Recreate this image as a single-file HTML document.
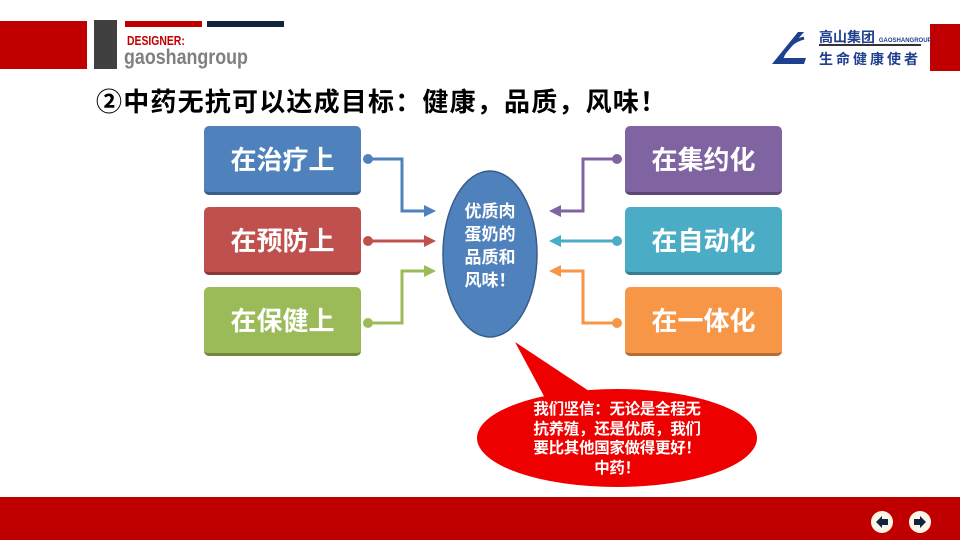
<!DOCTYPE html>
<html><head><meta charset="utf-8"><style>
body{margin:0;width:960px;height:540px;position:relative;overflow:hidden;background:#fff;font-family:"Liberation Sans","Noto Sans CJK SC",sans-serif}
.a{position:absolute}
.box{position:absolute;width:157px;border-radius:5px;color:#fff;font-weight:bold;font-size:26px;text-align:center;line-height:68px}
</style></head><body>
<div class="a" style="left:0;top:21px;width:87px;height:48px;background:#c00000"></div>
<div class="a" style="left:94px;top:20px;width:23px;height:49px;background:#404040"></div>
<div class="a" style="left:125px;top:21px;width:77px;height:6px;background:#c00000"></div>
<div class="a" style="left:207px;top:21px;width:77px;height:6px;background:#10243e"></div>
<div class="a" style="left:127px;top:33px;font-size:13px;font-weight:bold;color:#c00000;transform:scaleX(0.8);transform-origin:left">DESIGNER:</div>
<div class="a" style="left:124px;top:46px;font-size:21px;font-weight:bold;color:#7f7f7f;transform:scaleX(0.85);transform-origin:left">gaoshangroup</div>
<div class="a" style="left:930px;top:24px;width:30px;height:47px;background:#c00000"></div>
<svg class="a" style="left:768px;top:28px" width="40" height="40"><path d="M4 36 L30 4 L36 4 L14 30 L38 30 L36 36 Z" fill="#1f3f8f"/><path d="M14 30 Q20 14 36 10" stroke="#1f3f8f" stroke-width="3" fill="none"/></svg>
<div class="a" style="left:819px;top:27px;font-size:14px;font-weight:bold;color:#1f3f8f">高山集团 <span style="font-size:6px">GAOSHANGROUP</span></div>
<div class="a" style="left:819px;top:44px;width:102px;height:2px;background:#333"></div>
<div class="a" style="left:819px;top:49px;font-size:14px;font-weight:bold;color:#1f3f8f;letter-spacing:3px">生命健康使者</div>
<div class="a" style="left:96px;top:82px;font-size:26px;font-weight:bold;color:#000;letter-spacing:1.2px">②中药无抗可以达成目标：健康，品质，风味！</div>

<div class="box" style="left:204px;top:126px;height:66px;background:#4f81bd;border-bottom:3px solid #385d8a">在治疗上</div>
<div class="box" style="left:204px;top:207px;height:65px;background:#c0504d;border-bottom:3px solid #8c3836">在预防上</div>
<div class="box" style="left:204px;top:287px;height:66px;background:#9bbb59;border-bottom:3px solid #71893f">在保健上</div>
<div class="box" style="left:625px;top:126px;height:66px;background:#8064a2;border-bottom:3px solid #5c4776">在集约化</div>
<div class="box" style="left:625px;top:207px;height:65px;background:#4bacc6;border-bottom:3px solid #357d91">在自动化</div>
<div class="box" style="left:625px;top:287px;height:66px;background:#f79646;border-bottom:3px solid #b66d31">在一体化</div>

<svg class="a" style="left:0;top:0" width="960" height="540">
<g fill="none" stroke-width="3">
<polyline points="368,159 402,159 402,211 426,211" stroke="#4f81bd"/>
<polyline points="368,241 426,241" stroke="#c0504d"/>
<polyline points="368,323 402,323 402,271 426,271" stroke="#9bbb59"/>
<polyline points="617,159 583,159 583,211 559,211" stroke="#8064a2"/>
<polyline points="617,241 559,241" stroke="#4bacc6"/>
<polyline points="617,323 583,323 583,271 559,271" stroke="#f79646"/>
</g>
<circle cx="368" cy="159" r="5" fill="#4f81bd"/><path d="M424,205 L436,211 L424,217Z" fill="#4f81bd"/>
<circle cx="368" cy="241" r="5" fill="#c0504d"/><path d="M424,235 L436,241 L424,247Z" fill="#c0504d"/>
<circle cx="368" cy="323" r="5" fill="#9bbb59"/><path d="M424,265 L436,271 L424,277Z" fill="#9bbb59"/>
<circle cx="617" cy="159" r="5" fill="#8064a2"/><path d="M561,205 L549,211 L561,217Z" fill="#8064a2"/>
<circle cx="617" cy="241" r="5" fill="#4bacc6"/><path d="M561,235 L549,241 L561,247Z" fill="#4bacc6"/>
<circle cx="617" cy="323" r="5" fill="#f79646"/><path d="M561,265 L549,271 L561,277Z" fill="#f79646"/>
<ellipse cx="490" cy="254" rx="47" ry="83" fill="#4f81bd" stroke="#385d8a" stroke-width="1.5"/>
<path d="M515,342 L592,393 L545,398 Z" fill="#ee0000"/>
<ellipse cx="617" cy="438" rx="140" ry="49" fill="#ee0000"/>
<rect x="0" y="497" width="960" height="43" fill="#c00000"/>
<circle cx="882" cy="522" r="11" fill="#fdf6e8"/><path d="M876,522 L882,516 L882,519 L888,519 L888,525 L882,525 L882,528Z" fill="#10243e"/>
<circle cx="920" cy="522" r="11" fill="#fdf6e8"/><path d="M926,522 L920,516 L920,519 L914,519 L914,525 L920,525 L920,528Z" fill="#10243e"/>
</svg>
<div class="a" style="left:443px;top:200px;width:94px;text-align:center;color:#fff;font-weight:bold;font-size:17px;line-height:23px">优质肉<br>蛋奶的<br>品质和<br>风味！</div>
<div class="a" style="left:507px;top:400px;width:220px;text-align:center;color:#fff;font-weight:bold;font-size:15.5px;line-height:19.5px;letter-spacing:-0.3px">我们坚信：无论是全程无<br>抗养殖，还是优质，我们<br>要比其他国家做得更好！<br>中药！</div>
</body></html>
